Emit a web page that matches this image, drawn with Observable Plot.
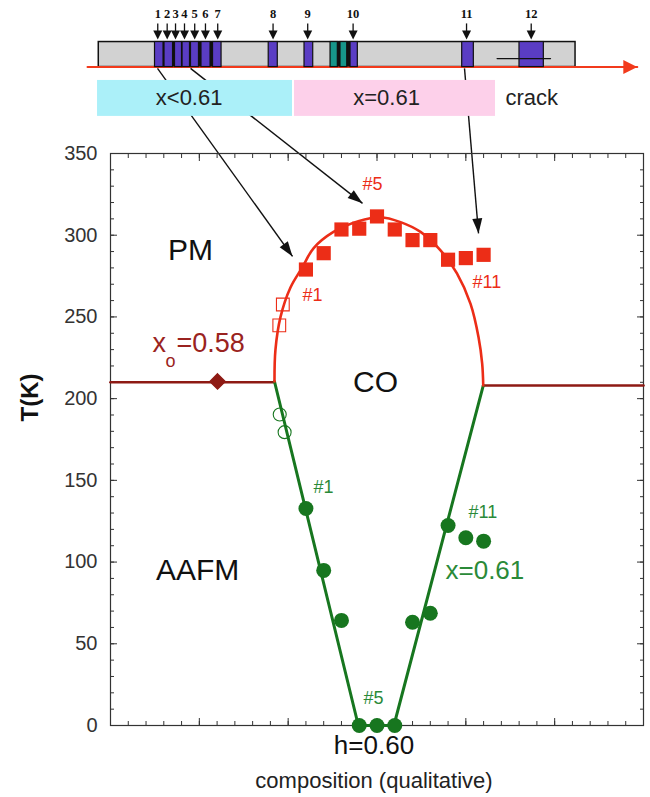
<!DOCTYPE html>
<html><head><meta charset="utf-8">
<script src="https://cdn.jsdelivr.net/npm/d3@7"></script>
<script src="https://cdn.jsdelivr.net/npm/@observablehq/plot@0.6"></script>
<style>body{margin:0;background:#fff}</style>
</head><body><div id="chart"></div>
<script>
// ---------- main phase diagram data (x: qualitative composition units, T in K) ----------
const coX = [2.2, 2.4, 2.6, 2.8, 3.0, 3.2, 3.4, 3.6, 3.8, 4.0, 4.2];
const coT = [279, 289, 303.5, 304, 311.5, 303.5, 297, 297, 285, 286, 288];
const coOpenX = [1.94, 1.90];
const coOpenT = [257.6, 244.8];
const afmX = [2.2, 2.4, 2.6, 2.8, 3.0, 3.2, 3.4, 3.6, 3.8, 4.0, 4.2];
const afmT = [132.8, 94.9, 64.3, 0, 0, 0, 63.2, 68.7, 122.4, 114.9, 112.8];
const afmOpenX = [1.905, 1.96];
const afmOpenT = [190.3, 179.5];
const coCurveX = [1.846, 1.857, 1.914, 2.026, 2.161, 2.285, 2.51, 2.79, 3.04, 3.265, 3.49, 3.715, 3.90, 4.053, 4.143, 4.184, 4.196];
const coCurveT = [210.5, 230, 250, 268, 280.5, 292, 302, 308.6, 311, 308, 302, 290.7, 276.6, 258, 237.6, 221.5, 208];
const afmLineX = [1.846, 2.79, 3.19, 4.196];
const afmLineT = [210.5, 0, 0, 208];
const xoLineX = [0, 1.846, 4.196, 6];
const xoLineT = [210, 210, 208, 208];
const xoLineSeg = ["left", "left", "right", "right"];
const diamondX = [1.205];
const diamondT = [210.5];

// axis ticks
const yTickLabels = [0, 50, 100, 150, 200, 250, 300, 350];
const yMinor = d3.range(0, 351, 10);
const xMajor = [0, 1, 2, 3, 4, 5, 6];
const xMinor = d3.range(0, 6.01, 0.2);

// annotations
const regionText = ["PM", "CO", "AAFM"];
const regionX = [0.90, 2.983, 0.98];
const regionT = [290.7, 210, 94.9];
const redTagText = ["#1", "#5", "#11"];
const redTagX = [2.16, 2.837, 4.075];
const redTagT = [263.2, 331.1, 271.1];
const greenTagText = ["#1", "#5", "#11"];
const greenTagX = [2.285, 2.848, 4.03];
const greenTagT = [145.7, 16.5, 130.4];

// ---------- crack / sample sketch above the diagram ----------
const barX = [-0.132, 5.235];
const barT = [402.9, 418.2];
const crackX = [-0.259, 5.93];
const sampleX1 = [0.501, 0.608, 0.726, 0.811, 0.906, 1.024, 1.154, 1.781, 2.184, 2.477, 2.589, 2.702, 3.959, 4.604];
const sampleX2 = [0.597, 0.704, 0.805, 0.895, 0.996, 1.126, 1.250, 1.883, 2.282, 2.559, 2.665, 2.784, 4.090, 4.878];
const sampleKind = ["p", "p", "p", "p", "p", "p", "p", "p", "p", "t", "t", "p", "p", "p"];
const blockX1 = [0.501, 2.477];
const blockX2 = [1.250, 2.784];
const sample12LineX = [4.352, 4.953];
const sample12LineT = 408.1;
const sampleNames = ["1", "2", "3", "4", "5", "6", "7", "8", "9", "10", "11", "12"];
const sampleArrowX = [0.532, 0.638, 0.732, 0.833, 0.948, 1.069, 1.207, 1.830, 2.220, 2.731, 4.008, 4.736];
const sampleArrowT = [429.6, 424, 419.8]; // shaft top, shaft bottom, tip
const sampleNameT = 435.4;
const boxText = ["x<0.61", "x=0.61"];
const boxX1 = [-0.146, 2.071];
const boxX2 = [2.049, 4.334];
const boxT = [372.7, 394.7];
const boxTextX = [0.885, 3.108];
const boxTextT = 383.7;
const crackLabelX = 4.447;
const linkFromX = [0.529, 0.901, 3.985];
const linkFromT = [402.1, 402.1, 402.1];
const linkToX = [2.049, 2.837, 4.143];
const linkToT = [287.0, 319.5, 301.1];

// ---------- build ----------
const X = d3.scaleLinear([0, 6], [110, 643]);
const Y = d3.scaleLinear([0, 350], [725, 153]);
const angle = (x1, y1, x2, y2) => Math.atan2(X(x2) - X(x1), -(Y(y2) - Y(y1))) * 180 / Math.PI;

const pts = (xs, ys) => xs.map((x, i) => ({x, y: ys[i]}));
const co = pts(coX, coT), coOpen = pts(coOpenX, coOpenT);
const afm = pts(afmX, afmT), afmOpen = pts(afmOpenX, afmOpenT);
const coCurve = pts(coCurveX, coCurveT), afmLine = pts(afmLineX, afmLineT);
const xoLine = xoLineX.map((x, i) => ({x, y: xoLineT[i], s: xoLineSeg[i]}));
const diamond = pts(diamondX, diamondT);
const regions = regionText.map((t, i) => ({t, x: regionX[i], y: regionT[i]}));
const redTags = redTagText.map((t, i) => ({t, x: redTagX[i], y: redTagT[i]}));
const greenTags = greenTagText.map((t, i) => ({t, x: greenTagX[i], y: greenTagT[i]}));
const samples = sampleX1.map((x1, i) => ({x1, x2: sampleX2[i], k: sampleKind[i]}));
const blocks = blockX1.map((x1, i) => ({x1, x2: blockX2[i]}));
const sArrows = sampleArrowX.map((x, i) => ({x, name: sampleNames[i]}));
const boxes = boxText.map((t, i) => ({t, x1: boxX1[i], x2: boxX2[i], tx: boxTextX[i]}));
const links = linkFromX.map((x1, i) => ({x1, y1: linkFromT[i], x2: linkToX[i], y2: linkToT[i],
  r: angle(x1, linkFromT[i], linkToX[i], linkToT[i])}));

const RED = "#ec2d17", DARKRED = "#8e1a14", GREEN = "#17761f", GTEXT = "#2a8a38";
const SANS = "Liberation Sans, Arial, Helvetica, sans-serif";

const chart = Plot.plot({
  width: 650, height: 797,
  marginLeft: 110, marginRight: 7, marginTop: 153, marginBottom: 72,
  x: {domain: [0, 6], axis: null},
  y: {domain: [0, 350], axis: null},
  style: {fontFamily: SANS, background: "#fff", color: "#222", overflow: "visible"},
  marks: [
    // sketch: bar, crack line, samples
    Plot.rect([0], {x1: barX[0], x2: barX[1], y1: barT[0], y2: barT[1], fill: "#d2d2d2", stroke: "#111", strokeWidth: 1.5}),
    Plot.line(crackX.map(x => ({x, y: barT[0]})), {x: "x", y: "y", stroke: "#f23a1c", strokeWidth: 2}),
    Plot.vector([0], {x: crackX[1], y: barT[0], rotate: 90, length: 14, r: 7, shape: "spike", anchor: "end", fill: "#f23a1c", stroke: "none"}),
    Plot.rect(blocks, {x1: "x1", x2: "x2", y1: barT[0], y2: barT[1], fill: "#111"}),
    Plot.rect(samples, {x1: "x1", x2: "x2", y1: barT[0], y2: barT[1], fill: d => d.k === "t" ? "#17968a" : "#5a3dc4", stroke: "#111", strokeWidth: 1.2}),
    Plot.line(sample12LineX.map(x => ({x, y: sample12LineT})), {x: "x", y: "y", stroke: "#111", strokeWidth: 1.3}),
    Plot.link(sArrows, {x1: "x", x2: "x", y1: sampleArrowT[0], y2: sampleArrowT[1], stroke: "#111", strokeWidth: 1.3}),
    Plot.vector(sArrows, {x: "x", y: sampleArrowT[2], rotate: 180, length: 9, r: 4.5, shape: "spike", anchor: "end", fill: "#111", stroke: "none"}),
    Plot.text(sArrows, {x: "x", y: sampleNameT, text: "name", fontFamily: "Liberation Serif, Times New Roman, serif", fontWeight: "bold", fontSize: 12.5, fill: "#111"}),
    // arrows from samples to data
    Plot.link(links, {x1: "x1", y1: "y1", x2: "x2", y2: "y2", stroke: "#111", strokeWidth: 1.4}),
    Plot.vector(links, {x: "x2", y: "y2", rotate: "r", length: 15, r: 5, shape: "spike", anchor: "end", fill: "#111", stroke: "none"}),
    // composition boxes
    Plot.rect(boxes, {x1: "x1", x2: "x2", y1: boxT[0], y2: boxT[1], fill: (d, i) => i === 0 ? "#abf0f9" : "#fdd0ea"}),
    Plot.text(boxes, {x: "tx", y: boxTextT, text: "t", fontSize: 22, fill: "#222"}),
    Plot.text(["crack"], {x: crackLabelX, y: boxTextT, text: d => d, fontSize: 22, textAnchor: "start", fill: "#222"}),

    // frame and ticks
    Plot.frame({stroke: "#333", strokeWidth: 1.2}),
    Plot.axisY({anchor: "left", ticks: yMinor, tickSize: -4, tickFormat: () => "", label: null, stroke: "#333"}),
    Plot.axisY({anchor: "right", ticks: yMinor, tickSize: -4, tickFormat: () => "", label: null, stroke: "#333"}),
    Plot.axisY({anchor: "left", ticks: yTickLabels, tickSize: -7, tickFormat: () => "", label: null, stroke: "#333"}),
    Plot.axisY({anchor: "right", ticks: yTickLabels, tickSize: -7, tickFormat: () => "", label: null, stroke: "#333"}),
    Plot.axisX({anchor: "bottom", ticks: xMinor, tickSize: -4, tickFormat: () => "", label: null, stroke: "#333"}),
    Plot.axisX({anchor: "top", ticks: xMinor, tickSize: -4, tickFormat: () => "", label: null, stroke: "#333"}),
    Plot.axisX({anchor: "bottom", ticks: xMajor, tickSize: -7, tickFormat: () => "", label: null, stroke: "#333"}),
    Plot.axisX({anchor: "top", ticks: xMajor, tickSize: -7, tickFormat: () => "", label: null, stroke: "#333"}),
    Plot.text(yTickLabels, {y: d => d, text: d => String(d), frameAnchor: "left", textAnchor: "end", dx: -13, fontSize: 20, fill: "#333"}),
    Plot.text(["T(K)"], {y: 186, text: d => d, frameAnchor: "left", dx: -80, rotate: -90, fontSize: 24, fontWeight: "bold", fill: "#111"}),
    Plot.text(["h=0.60"], {x: 2.966, text: d => d, frameAnchor: "bottom", dy: 28, fontSize: 26, fill: "#111"}),
    Plot.text(["composition (qualitative)"], {x: 2.966, text: d => d, frameAnchor: "bottom", dy: 62, fontSize: 22, fill: "#222"}),

    // phase boundaries
    Plot.line(xoLine, {x: "x", y: "y", z: "s", stroke: DARKRED, strokeWidth: 2.6}),
    Plot.line(afmLine, {x: "x", y: "y", stroke: GREEN, strokeWidth: 3}),
    Plot.line(coCurve, {x: "x", y: "y", stroke: RED, strokeWidth: 2.6, curve: "catmull-rom"}),

    // data points
    Plot.dot(diamond, {x: "x", y: "y", symbol: "diamond2", r: 6.8, fill: DARKRED, stroke: DARKRED}),
    Plot.dot(coOpen, {x: "x", y: "y", symbol: "square", r: 7.2, fill: "none", stroke: RED, strokeWidth: 1.1}),
    Plot.dot(co, {x: "x", y: "y", symbol: "square", r: 8, fill: RED}),
    Plot.dot(afmOpen, {x: "x", y: "y", symbol: "circle", r: 6.5, fill: "none", stroke: GREEN, strokeWidth: 1.1}),
    Plot.dot(afm, {x: "x", y: "y", symbol: "circle", r: 7.5, fill: GREEN}),

    // labels
    Plot.text(regions, {x: "x", y: "y", text: "t", fontSize: 30, fill: "#111"}),
    Plot.text(redTags, {x: "x", y: "y", text: "t", textAnchor: "start", fontSize: 18, fill: RED}),
    Plot.text(greenTags, {x: "x", y: "y", text: "t", textAnchor: "start", fontSize: 18, fill: GTEXT}),
    Plot.text(["x=0.61"], {x: 3.771, y: 94.9, text: d => d, textAnchor: "start", fontSize: 26, fill: GTEXT}),
    Plot.text(["x"], {x: 0.473, y: 228.3, text: d => d, textAnchor: "start", lineAnchor: "bottom", fontSize: 27, fill: "#9a2320"}),
    Plot.text(["o"], {x: 0.619, y: 219.1, text: d => d, textAnchor: "start", lineAnchor: "bottom", fontSize: 18, fill: "#9a2320"}),
    Plot.text(["=0.58"], {x: 0.743, y: 228.3, text: d => d, textAnchor: "start", lineAnchor: "bottom", fontSize: 27, fill: "#9a2320"})
  ]
});
document.getElementById("chart").appendChild(chart);
</script>
</body></html>
